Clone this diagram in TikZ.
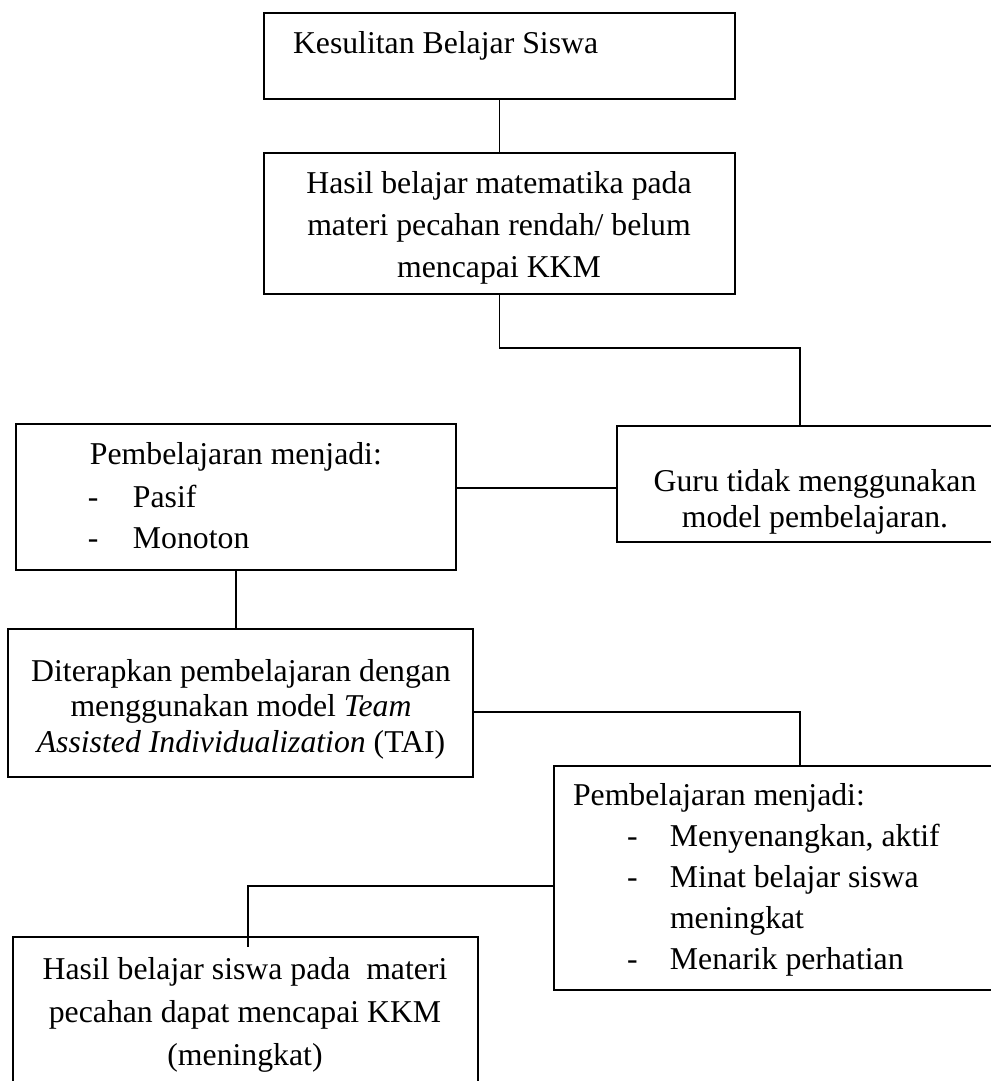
\documentclass[tikz,border=0pt]{standalone}
\usepackage{fontspec}
\setmainfont{Liberation Serif}
\usetikzlibrary{fit}
\newcommand{\fs}[1]{\fontsize{12.7}{#1}\selectfont}
\begin{document}
\begin{tikzpicture}[x=0.4pt,y=-0.4pt,
  box/.style={draw, line width=0.55pt, inner sep=0pt},
  conn/.style={line width=0.75pt},
  txt/.style={inner sep=0pt, outer sep=0pt}]
\useasboundingbox (0,0) rectangle (991,1081);
\clip (0,0) rectangle (991,1081);
% boxes
\node[box, fit={(264,13) (735,99)}] (b1) {};
\node[box, fit={(264,153) (735,294)}] (b2) {};
\node[box, fit={(617,426) (1000,542)}] (b3) {};
\node[box, fit={(16,424) (456,570)}] (b4) {};
\node[box, fit={(8,629) (473,777)}] (b5) {};
\node[box, fit={(554,766) (1000,990)}] (b6) {};
\node[box, fit={(13,937) (478,1110)}] (b7) {};
% texts
\node[txt, anchor=base west, font=\fs{16.8pt}] (t1) at (293,53) {Kesulitan Belajar Siswa};
\node[txt, anchor=base, font=\fs{16.8pt}] (t2) at (499,193)
  {\begin{tabular}[t]{@{}c@{}}Hasil belajar matematika pada\\ materi pecahan rendah/ belum\\ mencapai KKM\end{tabular}};
\node[txt, anchor=base, font=\fs{14.4pt}] (t3) at (815,491)
  {\begin{tabular}[t]{@{}c@{}}Guru tidak menggunakan\\ model pembelajaran.\end{tabular}};
\node[txt, anchor=base west, font=\fs{16.8pt}] (t4a) at (90,464) {Pembelajaran menjadi:};
\node[txt, anchor=base west, font=\fs{16.6pt}] (t4b) at (88,507)
  {\begin{tabular}[t]{@{}l@{}}\makebox[18pt][l]{-}Pasif\\ \makebox[18pt][l]{-}Monoton\end{tabular}};
\node[txt, anchor=base, font=\fs{14.2pt}] (t5) at (241,681)
  {\begin{tabular}[t]{@{}c@{}}Diterapkan pembelajaran dengan\\ menggunakan model \textit{Team}\\ \textit{Assisted Individualization} (TAI)\end{tabular}};
\node[txt, anchor=base west, font=\fs{16.4pt}] (t6a) at (573,805) {Pembelajaran menjadi:};
\node[txt, anchor=base west, font=\fs{16.4pt}] (t6b) at (627,846)
  {\begin{tabular}[t]{@{}l@{}}\makebox[17.2pt][l]{-}Menyenangkan, aktif\\ \makebox[17.2pt][l]{-}Minat belajar siswa\\ \makebox[17.2pt][l]{}meningkat\\ \makebox[17.2pt][l]{-}Menarik perhatian\end{tabular}};
\node[txt, anchor=base, font=\fs{17.2pt}] (t7) at (245,979)
  {\begin{tabular}[t]{@{}c@{}}Hasil belajar siswa pada\ \ materi\\ pecahan dapat mencapai KKM\\ (meningkat)\end{tabular}};
% junctions
\coordinate (j1) at (800,348);
\coordinate (h3) at (536,488);
\coordinate (j3) at (800,712);
\coordinate (j4) at (248,886);
\coordinate (e4) at (248,947);
% connectors
\draw[conn] (b1.south) -- (b2.north);
\draw[conn] (b2.south) |- (j1) -- (j1 |- b3.north);
\draw[conn] (b4.east |- h3) -- (b3.west |- h3);
\draw[conn] (b4.south) -- (b4.south |- b5.north);
\draw[conn] (b5.east |- j3) -- (j3) -- (j3 |- b6.north);
\draw[conn] (b6.west |- j4) -- (j4) -- (e4);
\end{tikzpicture}
\end{document}
